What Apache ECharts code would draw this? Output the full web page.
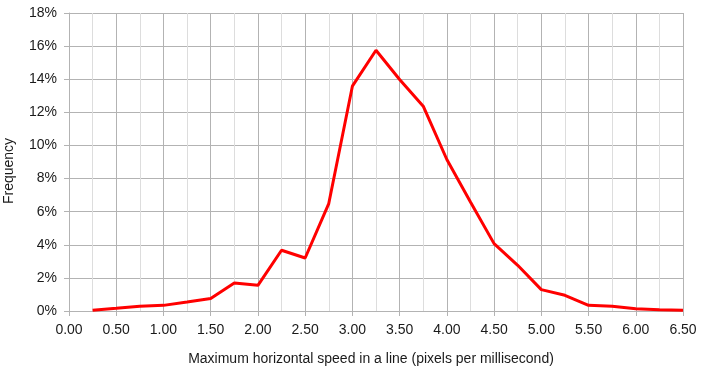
<!DOCTYPE html>
<html>
<head>
<meta charset="utf-8">
<script src="https://cdn.jsdelivr.net/npm/echarts@6/dist/echarts.min.js"></script>
<style>html,body{margin:0;padding:0;background:#fff}#c{width:701px;height:377px}</style>
</head>
<body>
<div id="c"></div>
<script>
const speeds = [0.25,0.5,0.75,1.0,1.25,1.5,1.75,2.0,2.25,2.5,2.75,3.0,3.25,3.5,3.75,4.0,4.25,4.5,4.75,5.0,5.25,5.5,5.75,6.0,6.25,6.5];
const frequency = [0.05,0.16,0.28,0.34,0.54,0.75,1.69,1.55,3.67,3.2,6.49,13.58,15.75,13.98,12.37,9.15,6.59,4.07,2.76,1.29,0.95,0.34,0.28,0.14,0.08,0.04];
const xTitle = 'Maximum horizontal speed in a line (pixels per millisecond)';
const yTitle = 'Frequency';

const chart = echarts.init(document.getElementById('c'), null, {renderer:'canvas'});
const font = 'Liberation Sans, Arial, sans-serif';
chart.setOption({
  animation:false,
  grid:{left:69,right:18,top:13,bottom:66,containLabel:false,outerBoundsMode:'none'},
  xAxis:{
    type:'value',min:0,max:6.5,interval:0.5,
    name:xTitle,nameLocation:'middle',nameGap:41,
    nameTextStyle:{fontFamily:font,fontSize:14,color:'#1a1a1a',padding:[0,10,0,0]},
    axisLine:{show:true,lineStyle:{color:'#b3b3b3',width:1}},
    axisTick:{show:true,length:5,lineStyle:{color:'#b3b3b3'}},
    axisLabel:{fontFamily:font,fontSize:14,color:'#1a1a1a',margin:12,formatter:v=>v.toFixed(2)},
    splitLine:{show:true,lineStyle:{color:'#b3b3b3',width:1}},
    minorTick:{show:false,splitNumber:2},
    minorSplitLine:{show:true,lineStyle:{color:'#dddddd',width:1}}
  },
  yAxis:{
    type:'value',min:0,max:18,interval:2,
    name:yTitle,nameLocation:'middle',nameGap:53,nameRotate:90,
    nameTextStyle:{fontFamily:font,fontSize:14,color:'#1a1a1a',padding:[0,18,0,0]},
    axisLine:{show:true,lineStyle:{color:'#b3b3b3',width:1}},
    axisTick:{show:true,length:5,lineStyle:{color:'#b3b3b3'}},
    axisLabel:{fontFamily:font,fontSize:14,color:'#1a1a1a',margin:12,formatter:v=>v+'%'},
    splitLine:{show:true,lineStyle:{color:'#b3b3b3',width:1}}
  },
  series:[{
    type:'line',
    data:speeds.map((s,i)=>[s,frequency[i]]),
    showSymbol:false,symbol:'none',
    lineStyle:{color:'#ff0000',width:3},
    itemStyle:{color:'#ff0000'}
  }]
});
</script>
</body>
</html>
